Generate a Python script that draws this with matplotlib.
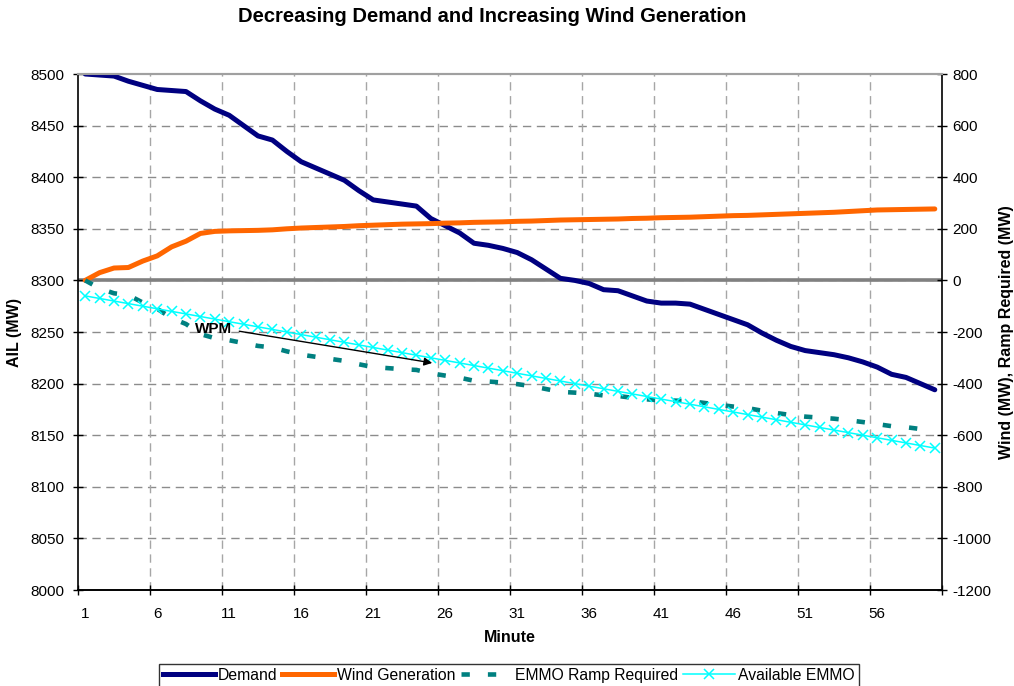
import matplotlib
matplotlib.use("Agg")
import matplotlib.pyplot as plt
from matplotlib.lines import Line2D

plt.rcParams['font.family'] = ['Liberation Sans', 'DejaVu Sans']
plt.rcParams['lines.scale_dashes'] = False
plt.rcParams['axes.unicode_minus'] = False

# ---- data -------------------------------------------------------------
minutes = list(range(1, 61))
tick_minutes = [1, 6, 11, 16, 21, 26, 31, 36, 41, 46, 51, 56]

demand = [8500, 8499, 8498, 8493, 8489, 8485, 8484, 8483, 8474, 8466,
          8460, 8450, 8440, 8436, 8425, 8415, 8409, 8403, 8397, 8387,
          8378, 8376, 8374, 8372, 8360, 8353, 8346, 8336, 8334, 8331,
          8327, 8320, 8311, 8302, 8300, 8297, 8291, 8290, 8285, 8280,
          8278, 8278, 8277, 8272, 8267, 8262, 8257, 8249, 8242, 8236,
          8232, 8230, 8228, 8225, 8221, 8216, 8209, 8206, 8200, 8194]

wind = [0, 30, 48, 50, 75, 95, 130, 152, 182, 190,
        192, 193, 194, 196, 200, 203, 205, 207, 209, 212,
        214, 216, 218, 219, 220, 222, 223, 225, 226, 227,
        229, 230, 232, 234, 235, 236, 237, 238, 240, 241,
        243, 244, 245, 247, 249, 251, 252, 254, 256, 258,
        260, 262, 264, 267, 270, 273, 274, 275, 276, 277]

ramp_required = [0, -31, -50, -57, -86, -110, -146, -169, -208, -224,
                 -232, -243, -254, -260, -275, -288, -296, -304, -312, -325,
                 -336, -340, -344, -347, -360, -369, -377, -389, -392, -396,
                 -402, -410, -421, -432, -435, -439, -446, -448, -455, -461,
                 -465, -466, -468, -475, -482, -489, -495, -505, -514, -522,
                 -528, -532, -536, -542, -549, -557, -565, -569, -576, -583]

available_emmo = [-60, -70, -80, -90, -100, -110, -120, -130, -140, -150,
                  -160, -170, -180, -190, -200, -210, -220, -230, -240, -250,
                  -260, -270, -280, -290, -300, -310, -320, -330, -340, -350,
                  -360, -370, -380, -390, -400, -410, -420, -430, -440, -450,
                  -460, -470, -480, -490, -500, -510, -520, -530, -540, -550,
                  -560, -570, -580, -590, -600, -610, -620, -630, -640, -650]

# ---- figure -----------------------------------------------------------
W, H = 1014, 686
fig = plt.figure(figsize=(W / 100, H / 100), dpi=100)
ax = fig.add_axes([78 / W, 1 - 590 / H, 864 / W, 516 / H])
ax2 = ax.twinx()

grid_kw = dict(lw=1.0, dashes=(6, 4), zorder=0.5)

ax.set_xlim(0.5, 60.5)
ax.set_ylim(8000, 8500)
ax2.set_ylim(-1200, 800)

# gridlines
for y in range(8050, 8500, 50):
    ax.axhline(y, color='#8c8c8c', **grid_kw)
for x in range(5, 60, 5):
    ax.axvline(x + 0.5, color='#a6a6a6', **grid_kw)

# zero line of the MW axis (8300 on AIL axis lines up with 0 MW)
ax.axhline(8300, color='#808080', lw=2.6, zorder=1)

ax.plot(minutes, demand, color='#000080', lw=3.6, solid_capstyle='round',
        solid_joinstyle='round', zorder=3)

ax2.plot(minutes, wind, color='#FF6600', lw=3.6, solid_capstyle='round',
         solid_joinstyle='round', zorder=3)
ax2.plot(minutes, ramp_required, color='#008080', lw=3.3,
         dashes=(6, 13), zorder=3)
ax2.plot(minutes, available_emmo, color='#00FFFF', lw=1.1, marker='x',
         markersize=6.5, markeredgewidth=1.1, zorder=3)

# WPM annotation
ax2.text(9.9, -188, 'WPM', ha='center', va='center', fontsize=11,
         fontweight='bold')
ax2.annotate('', xy=(25.1, -320), xytext=(11.7, -197),
             arrowprops=dict(arrowstyle='-|>', color='black', lw=1.0,
                             mutation_scale=12, shrinkA=0, shrinkB=0))

# axes styling
ax.set_yticks(range(8000, 8501, 50))
ax2.set_yticks(range(-1200, 801, 200))
ax.set_xticks([x + 0.5 for x in range(0, 61, 5)])
ax.set_xticklabels([])
ax.set_xticks(tick_minutes, minor=True)
ax.set_xticklabels([str(m) for m in tick_minutes], minor=True)

ax.tick_params(axis='y', direction='inout', length=7, width=1,
               labelsize=11, pad=6.2)
ax2.tick_params(axis='y', direction='inout', length=7, width=1,
                labelsize=11, pad=4)
ax.tick_params(axis='x', which='major', direction='inout', length=7, width=1)
ax.tick_params(axis='x', which='minor', length=0, labelsize=11, pad=12.5)

for a in (ax, ax2):
    for s in ('left', 'right', 'bottom'):
        a.spines[s].set_color('black')
        a.spines[s].set_linewidth(1.2)
    a.spines['top'].set_color('#a0a0a0')
    a.spines['top'].set_linewidth(1.5)
ax2.spines['left'].set_visible(False)
ax.spines['right'].set_visible(False)

ax.set_xlabel('Minute', fontsize=11.5, fontweight='bold', labelpad=6)
ax.set_ylabel('AIL (MW)', fontsize=11.5, fontweight='bold')
ax2.set_ylabel('Wind (MW), Ramp Required (MW)', fontsize=11.5,
               fontweight='bold', rotation=90)
ax.yaxis.label.set_va('center')
ax2.yaxis.label.set_va('center')
ax.yaxis.set_label_coords((15 - 78) / 864, 0.5)
ax2.yaxis.set_label_coords((1007 - 78) / 864, 0.5)

fig.text(492 / W, 1 - 17 / H, 'Decreasing Demand and Increasing Wind Generation',
         ha='center', va='center', fontsize=14.5, fontweight='bold')

# legend
handles = [
    Line2D([], [], color='#000080', lw=3.6),
    Line2D([], [], color='#FF6600', lw=3.6),
    Line2D([], [], color='#008080', lw=3.3, dashes=(6, 13)),
    Line2D([], [], color='#00FFFF', lw=1.1, marker='x', markersize=6.5,
           markeredgewidth=1.1),
]
labels = ['Demand', 'Wind Generation', 'EMMO Ramp Required', 'Available EMMO']
leg = fig.legend(handles, labels, loc='upper center', ncol=4,
                 bbox_to_anchor=(509 / W, 1 - 664 / H), fontsize=11.3,
                 frameon=True, fancybox=False, edgecolor='black',
                 handlelength=3.3, handletextpad=0.2, columnspacing=0.3,
                 borderpad=0.25, borderaxespad=0, numpoints=1)
leg.get_frame().set_linewidth(1.0)

fig.savefig('out.png', dpi=100)
